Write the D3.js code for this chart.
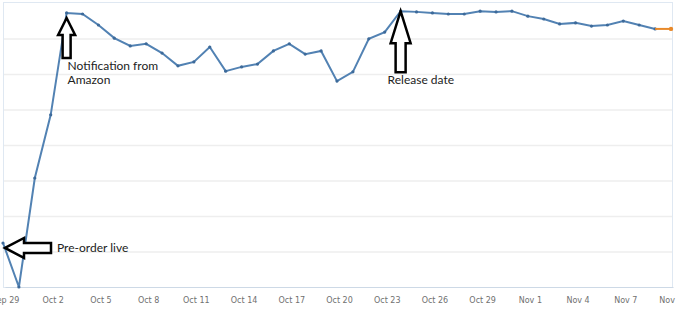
<!DOCTYPE html>
<html>
<head>
<meta charset="utf-8">
<script src="https://cdn.jsdelivr.net/npm/d3@7"></script>
<style>
  body { margin: 0; background: #fff; }
  .tick text { font-family: "DejaVu Sans", Verdana, sans-serif; font-size: 8px; fill: #707070; }
  .note { font-family: Lato, "Open Sans", sans-serif; font-size: 12px; fill: #222; }
</style>
</head>
<body>
<svg width="676" height="312"></svg>
<script>
const svg = d3.select('svg');

// days from Sep 29 to Nov 10 (one point per day)
const startDate = new Date(2014, 8, 29);
const rankLevel = [
  1.24, 0.00, 3.07, 4.85, 7.72, 7.69, 7.38, 7.01, 6.79, 6.85,
  6.59, 6.23, 6.34, 6.76, 6.08, 6.20, 6.28, 6.65, 6.85, 6.56,
  6.65, 5.80, 6.06, 6.99, 7.18, 7.77, 7.75, 7.72, 7.69, 7.69,
  7.77, 7.75, 7.77, 7.63, 7.55, 7.41, 7.44, 7.35, 7.38, 7.49,
  7.38, 7.27
];
const forecastLevel = [7.27, 7.27]; // last segment, Nov 9 -> Nov 10
const tickLabels = ['Sep 29','Oct 2','Oct 5','Oct 8','Oct 11','Oct 14','Oct 17','Oct 20',
  'Oct 23','Oct 26','Oct 29','Nov 1','Nov 4','Nov 7','Nov 10'];
const notes = [
  {day: 0, text: ['Pre-order live'], dir: 'left', gap: 5, len: 46, head: 19, half: 10, shaft: 5, dx: 54, dy: 9},
  {day: 4, text: ['Notification from', 'Amazon'], dir: 'up', gap: 5, len: 40, head: 17, half: 8.5, shaft: 4, dx: 1, dy: 57},
  {day: 25, text: ['Release date'], dir: 'up', gap: 0, len: 61, head: 32, half: 10, shaft: 5, dx: -13, dy: 73}
];

const dayOf = i => d3.timeDay.offset(startDate, i);
const data = rankLevel.map((v, i) => ({date: dayOf(i), value: v}));
const forecast = forecastLevel.map((v, i) => ({date: dayOf(rankLevel.length - 1 + i), value: v}));

const xScale = d3.scaleTime()
  .domain([startDate, dayOf(rankLevel.length)])
  .range([3, 671]);

const yScale = d3.scaleLinear()
  .domain([0, 8])
  .range([287, 3]);

// grid
svg.append('g')
  .selectAll('line').data(d3.range(1, 8))
  .enter().append('line')
    .attr('x1', 3).attr('x2', 673)
    .attr('y1', d => yScale(d) + 0.5).attr('y2', d => yScale(d) + 0.5)
    .attr('stroke', '#eeeeee').attr('stroke-width', 1.5);

// frame
svg.append('rect')
  .attr('x', 3.5).attr('y', 2.5).attr('width', 669).attr('height', 285)
  .attr('fill', 'none').attr('stroke', '#dfe8f2');

// x axis
const xAxis = d3.axisBottom(xScale)
  .tickValues(tickLabels.map((t, i) => dayOf(i * 3)))
  .tickFormat((d, i) => tickLabels[i])
  .tickSize(0)
  .tickPadding(10);

const xAxisG = svg.append('g')
  .attr('transform', `translate(2,${yScale(0)})`)
  .call(xAxis);
xAxisG.select('.domain').attr('stroke', '#cdd9e6');

const lineGenerator = d3.line()
  .x(d => xScale(d.date))
  .y(d => yScale(d.value));

svg.append('path')
  .attr('d', lineGenerator(data))
  .attr('fill', 'none')
  .attr('stroke', '#5282b3')
  .attr('stroke-width', 2);

svg.append('g').selectAll('circle').data(data)
  .enter().append('circle')
    .attr('cx', d => xScale(d.date))
    .attr('cy', d => yScale(d.value))
    .attr('r', 1.6)
    .attr('fill', '#3d6a9a');

svg.append('path')
  .attr('d', lineGenerator(forecast))
  .attr('fill', 'none')
  .attr('stroke', '#e8892a')
  .attr('stroke-width', 2);

svg.append('circle')
  .attr('cx', xScale(forecast[1].date))
  .attr('cy', yScale(forecast[1].value))
  .attr('r', 2.2)
  .attr('fill', '#e8892a');

// annotations: arrows anchored to data points
notes.forEach(n => {
  const px = xScale(dayOf(n.day));
  const py = yScale(rankLevel[n.day]);
  let pts;
  if (n.dir === 'up') {
    const x = px, y = py + n.gap;
    pts = [[x, y], [x + n.half, y + n.head], [x + n.shaft, y + n.head], [x + n.shaft, y + n.len],
           [x - n.shaft, y + n.len], [x - n.shaft, y + n.head], [x - n.half, y + n.head]];
  } else {
    const x = px + 2, y = py + n.gap;
    pts = [[x, y], [x + n.head, y - n.half], [x + n.head, y - n.shaft], [x + n.len, y - n.shaft],
           [x + n.len, y + n.shaft], [x + n.head, y + n.shaft], [x + n.head, y + n.half]];
  }
  svg.append('polygon')
    .attr('points', pts.map(p => p.join(',')).join(' '))
    .attr('fill', '#fff')
    .attr('stroke', '#000')
    .attr('stroke-width', 2.5)
    .attr('stroke-linejoin', 'miter');
  const tx = px + n.dx, ty = py + n.dy;
  const t = svg.append('text').attr('class', 'note').attr('x', tx).attr('y', ty);
  n.text.forEach((s, i) => {
    t.append('tspan').attr('x', tx).attr('dy', i === 0 ? 0 : 14).text(s);
  });
});
</script>
</body>
</html>
